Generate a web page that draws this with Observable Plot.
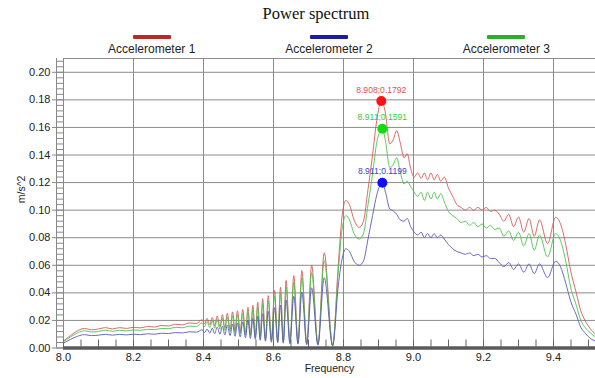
<!DOCTYPE html>
<html><head><meta charset="utf-8">
<script src="https://cdn.jsdelivr.net/npm/d3@7"></script>
<script src="https://cdn.jsdelivr.net/npm/@observablehq/plot@0.6"></script>
<style>
body{margin:0;background:#fff;}
#wrap{position:relative;width:595px;height:378px;overflow:hidden;font-family:"Liberation Sans",Arial,sans-serif;}
#head{position:relative;height:50px;width:595px;}
#title{position:absolute;top:0;left:316px;transform:translateX(-50%);font-family:"Liberation Serif","Times New Roman",serif;font-size:16.5px;line-height:28px;white-space:nowrap;color:#111;}
.item{position:absolute;top:0;transform:translateX(-50%);width:120px;text-align:center;}
.sw{position:absolute;top:35px;left:41px;width:38px;height:3.5px;border-radius:1px;}
.lab{position:absolute;top:43px;left:0;width:120px;font-size:12px;line-height:13px;color:#222;}
</style></head><body>
<div id="wrap"><div id="head"><div id="title">Power spectrum</div></div><div id="chart"></div></div>
<script>
const seriesNames = ["Accelerometer 1", "Accelerometer 2", "Accelerometer 3"];
const lineColors = ["#d65a5a", "#5a5ab8", "#4cc44c"];
const legendColors = ["#b82a2a", "#1c1ca0", "#2eae2e"];

const freq = [
 8.00,8.02,8.04,8.06,8.08,8.10,8.12,8.14,8.16,8.18,8.20,8.22,8.24,8.26,8.28,8.30,8.32,8.34,8.36,8.38,
 8.396,8.403,8.410,8.418,8.425,8.432,8.439,8.447,8.454,8.461,8.468,8.476,8.483,8.490,8.497,8.505,8.512,8.520,8.527,8.534,8.541,8.548,8.555,8.562,8.569,8.577,8.585,8.594,8.603,8.612,8.620,8.628,8.636,8.647,8.658,8.670,8.681,8.695,8.709,8.727,8.745,8.769,
 8.785,8.797,8.807,8.817,8.830,8.845,8.857,8.870,8.883,8.895,8.908,8.911,8.920,8.932,8.942,8.952,8.962,8.973,8.982,8.992,9.002,9.012,9.022,9.031,9.040,9.050,9.059,9.068,9.078,9.088,9.100,9.112,9.124,9.136,9.148,9.160,9.172,9.184,9.196,9.208,9.220,9.232,9.245,9.258,9.272,9.286,9.300,9.315,9.330,9.345,9.360,9.383,9.406,9.420,9.435,9.449,9.465,9.478,9.490,9.505,9.520
];

const accel1 = [
 .005,.009,.0125,.0142,.0132,.0138,.0148,.0138,.0148,.0142,.015,.0146,.0156,.0152,.0163,.016,.0172,.0168,.0182,.0178,
 .0205,.0175,.0215,.0168,.0222,.0162,.0232,.0155,.0242,.0146,.0252,.0137,.0262,.0128,.0270,.0120,.0280,.0110,.0295,.0100,.0310,.0090,.0332,.0080,.0357,.0070,.0380,.0060,.0417,.0055,.0440,.0050,.0490,.0045,.0525,.0040,.0562,.0035,.0600,.0030,.0690,.0020,
 .060,.098,.107,.104,.093,.0875,.092,.115,.140,.165,.1792,.1788,.170,.148,.151,.1576,.149,.138,.141,.130,.124,.127,.123,.127,.122,.127,.122,.126,.121,.124,.116,.110,.104,.102,.100,.102,.100,.102,.100,.102,.099,.100,.097,.092,.097,.088,.095,.084,.094,.081,.093,.0757,.0948,.090,.075,.056,.040,.027,.020,.014,.010
];
const accel2 = [
 .0035,.0062,.0085,.0097,.009,.0093,.0099,.0093,.0099,.0095,.01,.0097,.0103,.01,.0107,.0105,.0112,.0109,.0118,.0115,
 .0132,.0112,.0138,.0108,.0144,.0104,.0151,.0100,.0158,.0095,.0166,.0090,.0174,.0085,.0181,.0080,.0190,.0075,.0202,.0069,.0214,.0063,.0231,.0056,.0249,.0049,.0266,.0042,.0293,.0038,.0311,.0035,.0349,.0031,.0376,.0028,.0405,.0024,.0437,.0021,.0510,.0014,
 .045,.066,.072,.070,.063,.060,.063,.079,.096,.111,.1195,.1199,.113,.101,.0995,.097,.093,.092,.094,.088,.084,.082,.084,.080,.083,.080,.083,.080,.082,.079,.075,.072,.070,.069,.068,.069,.067,.068,.066,.067,.065,.065,.062,.059,.062,.057,.061,.055,.061,.054,.061,.051,.063,.059,.047,.034,.024,.015,.011,.007,.005
];
const accel3 = [
 .0045,.008,.011,.0125,.0116,.012,.0129,.0121,.0129,.0124,.0131,.0128,.0136,.0133,.0142,.0140,.015,.0147,.0159,.0156,
 .0183,.0154,.0192,.0148,.0198,.0143,.0207,.0136,.0216,.0128,.0225,.0121,.0234,.0113,.0241,.0106,.0250,.0097,.0264,.0088,.0278,.0079,.0298,.0070,.0321,.0062,.0342,.0053,.0376,.0048,.0397,.0044,.0443,.0040,.0476,.0035,.0511,.0031,.0547,.0026,.0635,.0018,
 .055,.088,.096,.093,.083,.079,.083,.104,.126,.149,.1585,.1591,.150,.131,.133,.138,.128,.119,.121,.117,.113,.110,.113,.107,.113,.108,.113,.108,.112,.106,.099,.096,.094,.091,.092,.089,.091,.088,.090,.087,.089,.086,.087,.081,.085,.078,.084,.074,.083,.071,.082,.066,.083,.078,.063,.044,.031,.020,.015,.011,.008
];

const peakFreq = [8.908, 8.911, 8.911];
const peakValue = [0.1792, 0.1199, 0.1591];
const peakLabels = ["8.908;0.1792", "8.911;0.1199", "8.911;0.1591"];
const peakColors = ["#ff1010", "#1010ff", "#10dd10"];
const labelColors = ["#e05050", "#4040d0", "#30d030"];

const xTicks = [8.0, 8.2, 8.4, 8.6, 8.8, 9.0, 9.2, 9.4];
const xMinor = d3.range(8.0, 9.5201, 0.05);
const yTicks = [0, 0.02, 0.04, 0.06, 0.08, 0.10, 0.12, 0.14, 0.16, 0.18, 0.20];
const yMinor = d3.range(0, 0.2101, 0.004);
const yTop = 0.21;
const xTitle = "Frequency";
const yTitle = "m/s^2";

// legend
const head = document.getElementById("head");
const plotLeft = 63, plotRight = 595;
seriesNames.forEach((n, i) => {
  const it = document.createElement("div");
  it.className = "item";
  it.style.left = (plotLeft + (plotRight - plotLeft) * (i + 0.5) / 3) + "px";
  it.innerHTML = `<div class="sw" style="background:${legendColors[i]}"></div><div class="lab">${n}</div>`;
  head.appendChild(it);
});

const values = [accel1, accel2, accel3];
const rows = [];
values.forEach((arr, i) => arr.forEach((v, j) => rows.push({f: freq[j], v, s: seriesNames[i]})));
const order = [0, 2, 1];
const lineRows = order.flatMap(i => rows.filter(r => r.s === seriesNames[i]));
const peaks = peakFreq.map((f, i) => ({f, v: peakValue[i], label: peakLabels[i], c: peakColors[i], lc: labelColors[i]}));

const chart = Plot.plot({
  width: 595, height: 328,
  marginTop: 8, marginBottom: 30.5, marginLeft: plotLeft, marginRight: 0,
  style: {fontFamily: "'Liberation Sans', Arial, sans-serif", fontSize: "11px", color: "#222", background: "white", overflow: "visible"},
  x: {domain: [8.0, 9.52]},
  y: {domain: [0, yTop]},
  color: {domain: seriesNames, range: lineColors},
  marks: [
    Plot.gridX(xTicks, {stroke: "#8c8c8c", strokeOpacity: 1}),
    Plot.gridY(yTicks, {stroke: "#8c8c8c", strokeOpacity: 1}),
    Plot.ruleY([yTop], {stroke: "#8c8c8c"}),
    Plot.axisY(yMinor, {tickSize: 7, tickFormat: () => "", label: null, stroke: "#888"}),
    Plot.ruleX([8.0], {dx: -7, stroke: "#888"}),
    Plot.ruleX([8.0], {stroke: "#888"}),
    Plot.axisY(yTicks, {tickSize: 11, tickPadding: 2, tickFormat: d => d.toFixed(2), stroke: "#888", label: null, fontSize: 11}),
    Plot.axisX(xMinor, {tickSize: 8, dy: -8, tickFormat: () => "", label: null, stroke: "#666"}),
    Plot.axisX(xTicks, {tickSize: 0, tickPadding: 5, tickFormat: d => d.toFixed(1), label: null, fontSize: 11}),
    Plot.text([yTitle], {frameAnchor: "left", rotate: -90, dx: -42, fontSize: 10.5}),
    Plot.text([xTitle], {frameAnchor: "bottom", dy: 24, fontSize: 10.5}),
    Plot.lineY(lineRows, {x: "f", y: "v", z: "s", stroke: "s", strokeWidth: 0.9, curve: "monotone-x"}),
    Plot.ruleY([0], {stroke: "#5a5a5a", strokeWidth: 3.5}),
    Plot.dot(peaks, {x: "f", y: "v", fill: "c", r: 5, stroke: null}),
    Plot.text(peaks, {x: "f", y: "v", text: "label", fill: "lc", dy: -11, fontSize: 8.6})
  ]
});
document.getElementById("chart").appendChild(chart);
</script>
</body></html>
